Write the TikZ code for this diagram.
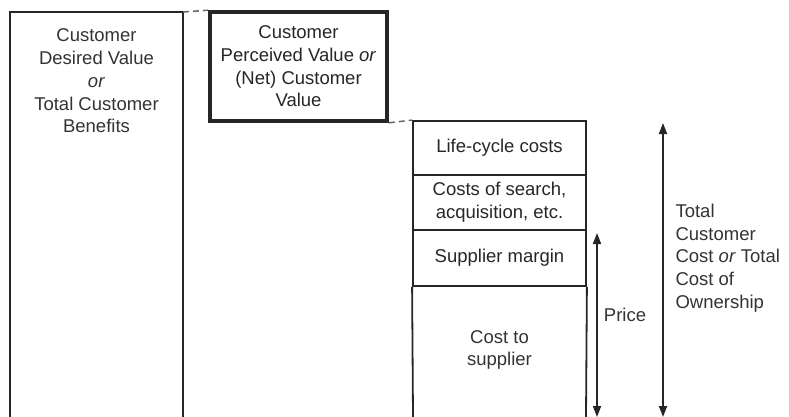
\documentclass[tikz,border=0pt]{standalone}
\usepackage{fontspec}
\setmainfont{Liberation Sans}
\usepackage{tikz}
\usetikzlibrary{arrows.meta}

\begin{document}
\begin{tikzpicture}[x=1pt,y=-1pt,
  every node/.style={text=black!80,align=center,font=\fontsize{18.5}{22.7}\selectfont},
  frame/.style={line width=1.8pt,black!85},
  thickframe/.style={line width=3.6pt,black!85},
  link/.style={line width=1.5pt,black!60,dash pattern=on 6pt off 4pt},
  span/.style={line width=1.8pt,black!85,{Triangle[width=8pt,length=11pt]}-{Triangle[width=8pt,length=11pt]}}]
\useasboundingbox (0,0) rectangle (789,417);

% value boxes
\coordinate (d1) at (10,417);
\coordinate (d2) at (183,417);
\node (desired) at (96.5,81) {Customer\\Desired Value\\\textit{or}\\Total Customer\\Benefits};
\draw[frame] (d1) |- (183,12) -- (d2);

\node[draw,thickframe,minimum width=177,minimum height=109,inner sep=0pt] (perceived) at (298.5,66.5) {Customer\\Perceived Value \textit{or}\\(Net) Customer\\Value};

% cost stack
\begin{scope}[every node/.append style={draw,frame,minimum width=173,inner sep=0pt}]
\node[minimum height=54] (life) at (499.5,148) {Life-cycle costs};
\node[minimum height=55] (search) at (499.5,202.5) {Costs of search,\\acquisition, etc.};
\node[minimum height=56] (margin) at (499.5,258) {Supplier margin};
\end{scope}
\coordinate (s1) at (413,417);
\coordinate (s2) at (586,417);
\draw[frame] (margin.south west) -- (s1);
\draw[frame] (margin.south east) -- (s2);
\node (cost) at (499.5,350) {Cost to\\supplier};

\draw[link] (183,12) -- (perceived.north west);
\draw[link] (perceived.south east) -- (life.north west);

% spans
\coordinate (ptop) at (597,233);
\coordinate (pbot) at (597,417);
\coordinate (ttop) at (663,123);
\coordinate (tbot) at (663,417);
\draw[span] (ptop) -- (pbot);
\draw[span] (ttop) -- (tbot);
\node (price) at (625,315) {Price};
\node[anchor=west,align=left] (total) at (672,258) {Total\\Customer\\Cost \textit{or} Total\\Cost of\\Ownership};

\end{tikzpicture}
\end{document}
